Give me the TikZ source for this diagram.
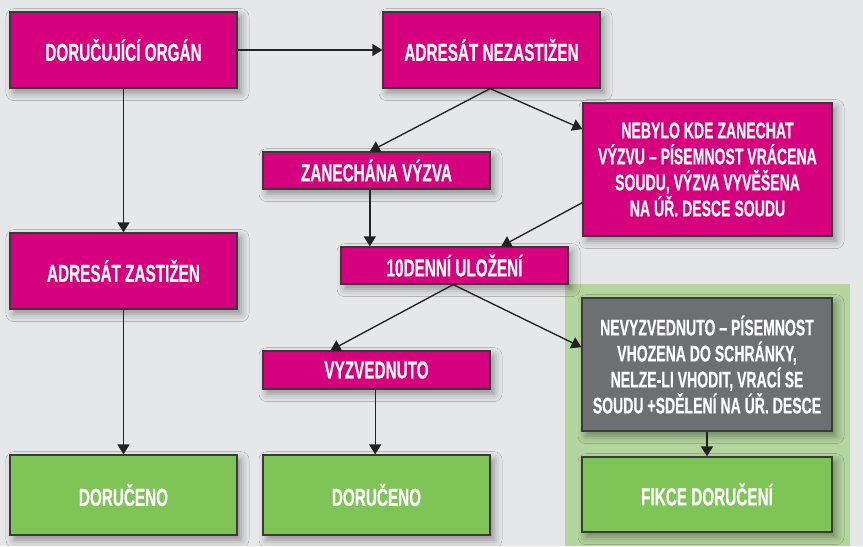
\documentclass[tikz,border=0pt]{standalone}
\usepackage{fontspec}
\setmainfont{Liberation Sans}[FakeStretch=0.62, BoldFeatures={FakeBold=0.4}]
\usetikzlibrary{arrows.meta,shadows.blur}
\definecolor{mag}{HTML}{D6007E}
\definecolor{grn}{HTML}{7EC456}
\definecolor{gry}{HTML}{6E6F71}
\definecolor{bgc}{HTML}{E6E7E9}
\definecolor{panel}{HTML}{B4D59E}
\definecolor{edgec}{HTML}{3A3A3A}
\definecolor{linec}{HTML}{222222}
\begin{document}
\begin{tikzpicture}[x=0.75pt,y=-0.75pt,
  box/.style={draw=edgec, line width=0.9pt, text=white, align=center, inner sep=0pt,
    font=\bfseries\fontsize{18.5}{20}\selectfont,
    blur shadow={shadow xshift=3pt, shadow yshift=-3.5pt, shadow blur radius=6pt, shadow opacity=40}},
  multi/.style={font=\bfseries\fontsize{17}{19.5}\selectfont},
  magbox/.style={box, fill=mag},
  grnbox/.style={box, fill=grn},
  grybox/.style={box, fill=gry},
  conn/.style={draw=linec, line width=1pt, -{Triangle[length=7.5pt,width=9pt]}}
]
\fill[bgc] (0,0) rectangle (863,546);
\useasboundingbox (0,0) rectangle (863,546);
\fill[panel] (565,284) rectangle (850,546);

\node[magbox, minimum width=170.25pt, minimum height=57pt] (do) at (123.5,50) {DORUČUJÍCÍ ORGÁN};
\node[magbox, minimum width=162.75pt, minimum height=57pt] (an) at (491.5,50) {ADRESÁT NEZASTIŽEN};
\node[magbox, multi, minimum width=186.75pt, minimum height=99.75pt] (nb) at (707.5,169.5)
  {NEBYLO KDE ZANECHAT\\VÝZVU – PÍSEMNOST VRÁCENA\\SOUDU, VÝZVA VYVĚŠENA\\NA ÚŘ. DESCE SOUDU};
\node[magbox, minimum width=170.25pt, minimum height=27.75pt] (zv) at (376.5,170.5) {ZANECHÁNA VÝZVA};
\node[magbox, minimum width=170.25pt, minimum height=57pt] (az) at (123.5,271) {ADRESÁT ZASTIŽEN};
\node[magbox, minimum width=170.25pt, minimum height=27.75pt] (ten) at (454.5,265.5) {10DENNÍ ULOŽENÍ};
\node[magbox, minimum width=170.25pt, minimum height=28.5pt] (vy) at (376.5,370) {VYZVEDNUTO};
\node[grybox, multi, minimum width=187.5pt, minimum height=99.75pt] (gr) at (707,364.5)
  {NEVYZVEDNUTO – PÍSEMNOST\\VHOZENA DO SCHRÁNKY,\\NELZE-LI VHODIT, VRACÍ SE\\SOUDU +SDĚLENÍ NA ÚŘ. DESCE};
\node[grnbox, minimum width=170.25pt, minimum height=60pt] (d1) at (123.5,495) {DORUČENO};
\node[grnbox, minimum width=170.25pt, minimum height=60pt] (d2) at (376.5,495) {DORUČENO};
\node[grnbox, minimum width=187.5pt, minimum height=56.25pt] (fk) at (707,494.5) {FIKCE DORUČENÍ};

\draw[conn] (do.east) -- (an.west);
\draw[conn] (do.south) -- (az.north);
\draw[conn] (az.south) -- (d1.north);
\draw[conn] ([xshift=-1pt]an.south) -- ([xshift=-5pt]zv.north);
\draw[conn] ([xshift=-1pt]an.south) -- ([yshift=-20pt]nb.north west);
\draw[conn] ([xshift=-5pt]zv.south) -- ([xshift=-5pt]zv.south |- ten.north);
\draw[conn] ([yshift=25.5pt]nb.south west) -- ([xshift=35pt]ten.north);
\draw[conn] ([xshift=-1pt]ten.south) -- ([xshift=-34.5pt]vy.north);
\draw[conn] ([xshift=-1pt]ten.south) -- ([yshift=13pt]gr.west);
\draw[conn] ([xshift=-1pt]vy.south) -- ([xshift=-1pt]d2.north);
\draw[conn] (gr.south) -- (fk.north);
\end{tikzpicture}
\end{document}
